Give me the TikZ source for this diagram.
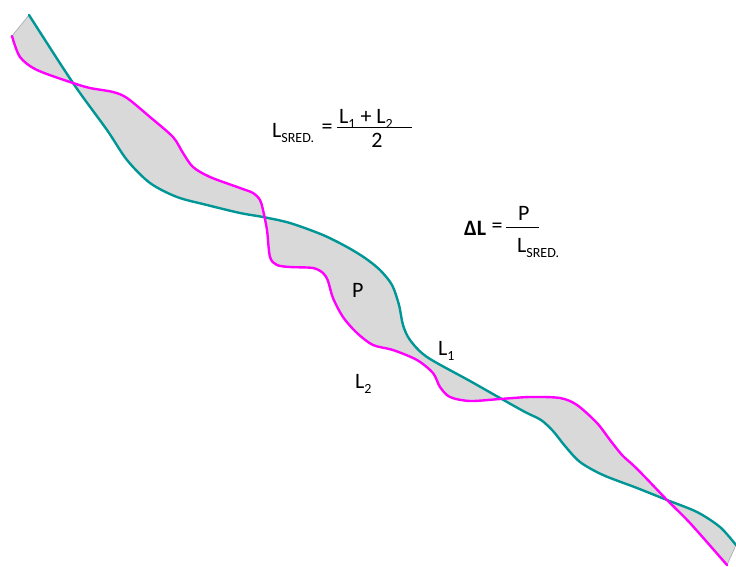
\documentclass[tikz,border=0pt]{standalone}
\usepackage{fontspec}
\setmainfont{Carlito}
\definecolor{tealc}{RGB}{0,150,150}
\definecolor{magc}{RGB}{255,0,255}
\definecolor{fillc}{RGB}{217,217,217}
\newcommand\lsb[1]{\raisebox{-0.25em}{\fontsize{14}{16}\selectfont #1}}
\begin{document}
\begin{tikzpicture}[x=1pt,y=-1pt,
  curve/.style={line width=2.4pt, line join=round, line cap=round},
  lbl/.style={inner sep=0pt, font=\fontsize{22}{26}\selectfont, anchor=base west},
  bar/.style={line width=0.8pt, black}]
\useasboundingbox (0,0) rectangle (736,566);
% filled region between the two lines
\fill[fillc, draw=black!35, line width=0.6pt]
  plot[smooth, tension=0.5] coordinates {(29,15) (73,83) (107,130) (127,160) (150,183) (177,197) (207,205) (240,213) (263,217) (290,223) (323,235) (347,247) (365,258) (380,270) (392,285) (399,305) (403,325) (410,340) (427,357) (470,381) (500,398) (525,412) (541,420) (553,431) (565,446) (580,462) (603,475) (637,488) (667,500) (697,512) (720,527) (736,545)}
  -- plot[smooth, tension=0.5] coordinates {(727,565) (690,523) (667,500) (645,477) (633,465) (622,455) (610,440) (597,423) (577,405) (560,398) (530,397) (500,399) (470,401) (450,397) (440,387) (433,373) (417,360) (393,350) (373,345) (357,333) (343,317) (333,298) (328,281) (323,273) (313,268) (290,267) (277,265) (270,257) (267,230) (263,210) (260,200) (253,193) (240,188) (210,177) (193,167) (183,153) (173,137) (150,117) (127,98) (113,92) (90,88) (73,83) (37,70) (20,57) (12,36)}
  -- cycle;
% L1 (teal)
\draw[curve, tealc] plot[smooth, tension=0.5] coordinates {(29,15) (73,83) (107,130) (127,160) (150,183) (177,197) (207,205) (240,213) (263,217) (290,223) (323,235) (347,247) (365,258) (380,270) (392,285) (399,305) (403,325) (410,340) (427,357) (470,381) (500,398) (525,412) (541,420) (553,431) (565,446) (580,462) (603,475) (637,488) (667,500) (697,512) (720,527) (736,545)};
% L2 (magenta)
\draw[curve, magc] plot[smooth, tension=0.5] coordinates {(12,36) (20,57) (37,70) (73,83) (90,88) (113,92) (127,98) (150,117) (173,137) (183,153) (193,167) (210,177) (240,188) (253,193) (260,200) (263,210) (267,230) (270,257) (277,265) (290,267) (313,268) (323,273) (328,281) (333,298) (343,317) (357,333) (373,345) (393,350) (417,360) (433,373) (440,387) (450,397) (470,401) (500,399) (530,397) (560,398) (577,405) (597,423) (610,440) (622,455) (633,465) (645,477) (667,500) (690,523) (727,565)};
% labels
\node[lbl] (p) at (352,297) {P};
\node[lbl] (l1) at (438,355) {L\lsb{1}};
\node[lbl] (l2) at (355,388) {L\lsb{2}};
% formula 1
\node[lbl] (ls1) at (272,137) {L\lsb{SRED.}};
\node[lbl, anchor=center] (eq1) at (327,129) {=};
\coordinate (b1a) at (337,127);
\coordinate (b1b) at (412,127);
\draw[bar] (b1a) -- (b1b);
\node[lbl] (num1) at (339,123) {L\lsb{1} + L\lsb{2}};
\node[lbl, anchor=base] (den1) at (377,147) {2};
% formula 2
\node[lbl, font=\fontsize{22}{26}\selectfont\bfseries] (dl) at (464,235) {ΔL};
\node[lbl, anchor=center] (eq2) at (497,228) {=};
\coordinate (b2a) at (506,227);
\coordinate (b2b) at (539,227);
\draw[bar] (b2a) -- (b2b);
\node[lbl] (num2) at (518,220) {P};
\node[lbl] (ls2) at (517,252) {L\lsb{SRED.}};
\end{tikzpicture}
\end{document}
